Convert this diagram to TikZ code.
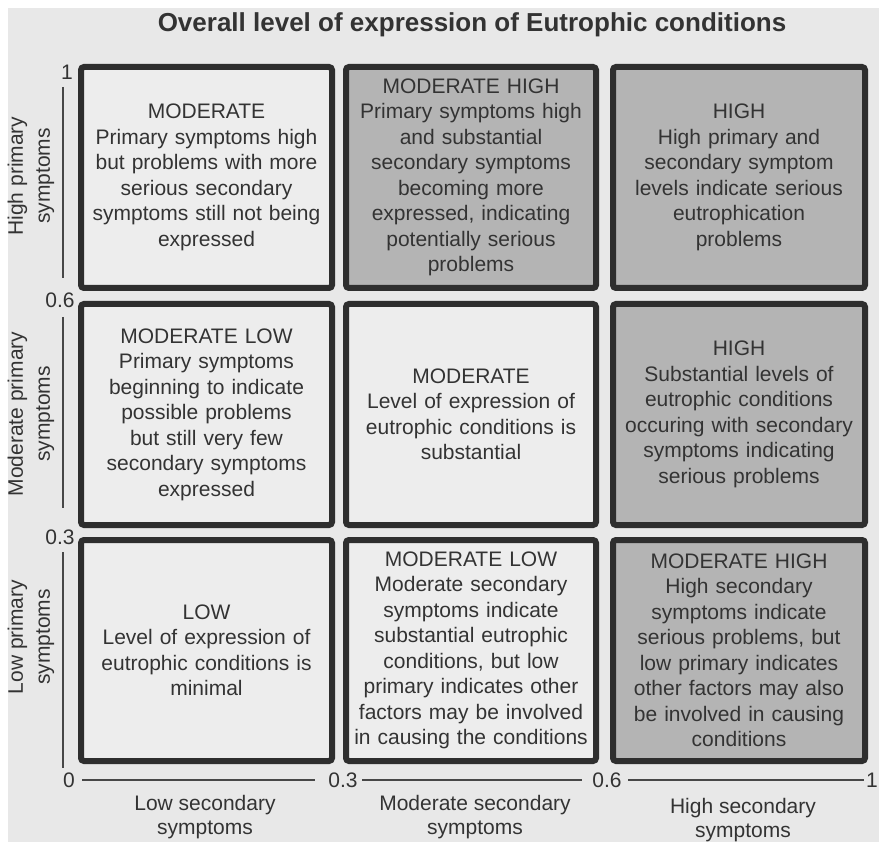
\documentclass[tikz,border=0pt]{standalone}
\usepackage{fontspec}
\setmainfont{Liberation Sans}
\definecolor{pagebg}{HTML}{E8E8E8}
\definecolor{lightbox}{HTML}{EDEDED}
\definecolor{darkbox}{HTML}{B4B4B4}
\definecolor{ink}{HTML}{333333}
\definecolor{frame}{HTML}{2E2E2E}
\tikzset{
  cell/.style={draw=frame, line width=6pt, rounded corners=3pt, rectangle,
    minimum height=221pt, inner sep=0pt, align=center, text=ink,
    font=\fontsize{21}{25.5}\selectfont},
  lightcell/.style={cell, fill=lightbox},
  darkcell/.style={cell, fill=darkbox},
  ticklabel/.style={inner sep=0pt, text=ink, font=\fontsize{21}{25}\selectfont},
  axislabel/.style={inner sep=0pt, text=ink, align=center, font=\fontsize{21}{27}\selectfont},
  axisline/.style={draw=ink!90, line width=1.4pt}
}
\begin{document}
\begin{tikzpicture}[x=1pt,y=-1pt]
\useasboundingbox (0,0) rectangle (879,842);
\fill[white] (0,0) rectangle (879,842);
\fill[pagebg] (8,8) rectangle (879,842);

% title
\node[text=ink, inner sep=0pt, font=\bfseries\fontsize{26}{30}\selectfont] (title) at (472,25) {Overall level of expression of Eutrophic conditions};

% row 1
\node[lightcell, minimum width=251pt, text width=245pt] (r1c1) at (206.5,177.5)
  {MODERATE\\Primary symptoms high\\but problems with more\\serious secondary\\symptoms still not being\\expressed};
\node[darkcell, minimum width=250pt, text width=245pt] (r1c2) at (471,177.5)
  {MODERATE HIGH\\Primary symptoms high\\and substantial\\secondary symptoms\\becoming more\\expressed, indicating\\potentially serious\\problems};
\node[darkcell, minimum width=252pt, text width=245pt] (r1c3) at (739,177.5)
  {HIGH\\High primary and\\secondary symptom\\levels indicate serious\\eutrophication\\problems};

% row 2
\node[lightcell, minimum width=251pt, text width=245pt] (r2c1) at (206.5,414.5)
  {MODERATE LOW\\Primary symptoms\\beginning to indicate\\possible problems\\but still very few\\secondary symptoms\\expressed};
\node[lightcell, minimum width=250pt, text width=245pt] (r2c2) at (471,414.5)
  {MODERATE\\Level of expression of\\eutrophic conditions is\\substantial};
\node[darkcell, minimum width=252pt, text width=245pt] (r2c3) at (739,414.5)
  {HIGH\\Substantial levels of\\eutrophic conditions\\occuring with secondary\\symptoms indicating\\serious problems};

% row 3
\node[lightcell, minimum width=251pt, text width=245pt] (r3c1) at (206.5,650.5)
  {LOW\\Level of expression of\\eutrophic conditions is\\minimal};
\node[lightcell, minimum width=250pt, text width=245pt] (r3c2) at (471,650.5)
  {MODERATE LOW\\Moderate secondary\\symptoms indicate\\substantial eutrophic\\conditions, but low\\primary indicates other\\factors may be involved\\in causing the conditions};
\node[darkcell, minimum width=252pt, text width=245pt] (r3c3) at (739,650.5)
  {MODERATE HIGH\\High secondary\\symptoms indicate\\serious problems, but\\low primary indicates\\other factors may also\\be involved in causing\\conditions};

% vertical axis tick labels
\node[ticklabel] (ty1) at (67,72) {1};
\node[ticklabel] (ty06) at (60,300) {0.6};
\node[ticklabel] (ty03) at (60,537) {0.3};
\node[ticklabel] (t0) at (69,780) {0};

% vertical axis lines
\coordinate (va1) at (63,87);   \coordinate (vb1) at (63,278);
\coordinate (va2) at (63,317);  \coordinate (vb2) at (63,508);
\coordinate (va3) at (63,552);  \coordinate (vb3) at (63,768);
\draw[axisline] (va1) -- (vb1);
\draw[axisline] (va2) -- (vb2);
\draw[axisline] (va3) -- (vb3);

% vertical axis labels
\node[axislabel, rotate=90] (ly1) at (31,176) {High primary\\symptoms};
\node[axislabel, rotate=90] (ly2) at (31,414) {Moderate primary\\symptoms};
\node[axislabel, rotate=90] (ly3) at (31,637) {Low primary\\symptoms};

% horizontal axis tick labels
\node[ticklabel] (tx03) at (343,780) {0.3};
\node[ticklabel] (tx06) at (607,780) {0.6};
\node[ticklabel, anchor=east] (tx1) at (878,780) {1};

% horizontal axis lines
\coordinate (ha1) at (82,780);  \coordinate (hb1) at (315,780);
\coordinate (ha2) at (362,780); \coordinate (hb2) at (582,780);
\coordinate (ha3) at (628,780); \coordinate (hb3) at (864,780);
\draw[axisline] (ha1) -- (hb1);
\draw[axisline] (ha2) -- (hb2);
\draw[axisline] (ha3) -- (hb3);

% horizontal axis labels
\node[axislabel, font=\fontsize{21}{24}\selectfont] (lx1) at (205,817) {Low secondary\\symptoms};
\node[axislabel, font=\fontsize{21}{24}\selectfont] (lx2) at (475,817) {Moderate secondary\\symptoms};
\node[axislabel, font=\fontsize{21}{24}\selectfont] (lx3) at (743,820) {High secondary\\symptoms};
\end{tikzpicture}
\end{document}
